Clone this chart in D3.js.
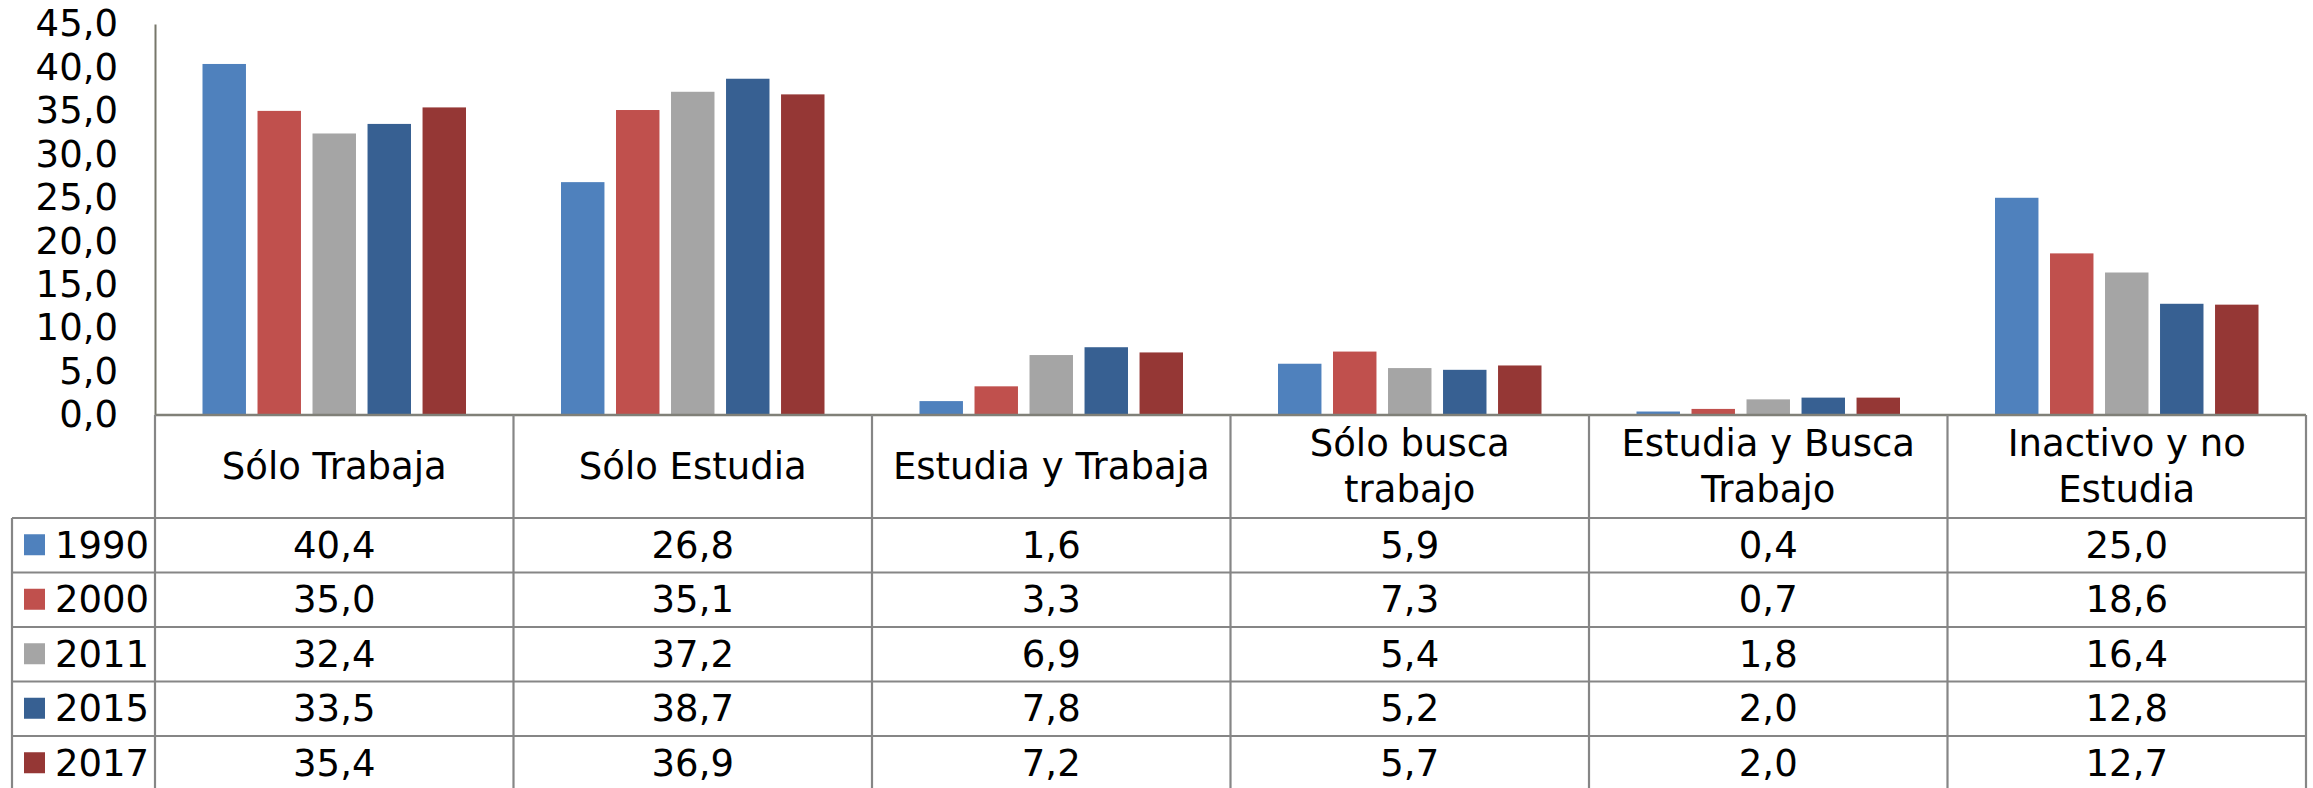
<!DOCTYPE html>
<html>
<head>
<meta charset="utf-8">
<script src="https://cdn.jsdelivr.net/npm/d3@7"></script>
<style>
  html, body { margin: 0; padding: 0; background: #fff; }
  svg { display: block; }
  text { font-family: "DejaVu Sans", Verdana, sans-serif; fill: #000; }
</style>
</head>
<body>
<svg id="chart" width="2313" height="788"></svg>
<script>
// ---- data ----
const categories = ["Sólo Trabaja", "Sólo Estudia", "Estudia y Trabaja", "Sólo busca trabajo", "Estudia y Busca Trabajo", "Inactivo y no Estudia"];
const categoryLines = [["Sólo Trabaja"], ["Sólo Estudia"], ["Estudia y Trabaja"], ["Sólo busca", "trabajo"], ["Estudia y Busca", "Trabajo"], ["Inactivo y no", "Estudia"]];
const seriesNames = ["1990", "2000", "2011", "2015", "2017"];
const values1990 = [40.4, 26.8, 1.6, 5.9, 0.4, 25.0];
const values2000 = [35.0, 35.1, 3.3, 7.3, 0.7, 18.6];
const values2011 = [32.4, 37.2, 6.9, 5.4, 1.8, 16.4];
const values2015 = [33.5, 38.7, 7.8, 5.2, 2.0, 12.8];
const values2017 = [35.4, 36.9, 7.2, 5.7, 2.0, 12.7];
const yTicks = [0, 5, 10, 15, 20, 25, 30, 35, 40, 45];
const colors = ["#4F81BD", "#C0504D", "#A5A5A5", "#376092", "#953735"];

const series = [values1990, values2000, values2011, values2015, values2017];

// ---- layout ----
const plotLeft = 155, plotRight = 2306, plotTop = 24, baseY = 415;
const headerBottom = 518, rowH = 54.5, legendLeft = 12;
const fontSize = 37;

const svg = d3.select("#chart");
const locale = d3.formatLocale({decimal: ",", thousands: ".", grouping: [3], currency: ["", ""]});
const fmt = locale.format(".1f");

const x0 = d3.scaleBand().domain(categories).range([plotLeft, plotRight]).paddingInner(0).paddingOuter(0);
const gpad = 47.5;
const x1 = d3.scaleBand().domain(seriesNames).range([gpad, x0.bandwidth() - gpad]).paddingInner(0.21).paddingOuter(0);
const y = d3.scaleLinear().domain([0, 45]).range([baseY, plotTop]);
const color = d3.scaleOrdinal().domain(seriesNames).range(colors);

// bars
const groups = svg.append("g").selectAll("g").data(categories).join("g")
  .attr("transform", d => `translate(${x0(d)},0)`);
groups.selectAll("rect").data((c, ci) => seriesNames.map((s, si) => ({s, v: series[si][ci]})))
  .join("rect")
  .attr("x", d => x1(d.s))
  .attr("width", x1.bandwidth())
  .attr("y", d => y(d.v))
  .attr("height", d => y(0) - y(d.v))
  .attr("fill", d => color(d.s));

// y axis
const yAxis = d3.axisLeft(y).tickValues(yTicks).tickFormat(fmt).tickSize(0).tickPadding(37);
const ya = svg.append("g").attr("transform", `translate(${plotLeft},0)`).call(yAxis);
ya.select(".domain").attr("stroke", "#77776a").attr("stroke-width", 2);
ya.selectAll("text").style("font-family", '"DejaVu Sans", Verdana, sans-serif').attr("font-size", fontSize).attr("fill", "#000");

// table
const rowScale = d3.scaleBand().domain(seriesNames).range([headerBottom, headerBottom + rowH * seriesNames.length]);
const grid = svg.append("g").attr("stroke", "#868686").attr("stroke-width", 2.2).attr("fill", "none");
// baseline / header top
grid.append("line").attr("x1", plotLeft).attr("x2", plotRight).attr("y1", baseY).attr("y2", baseY).attr("stroke", "#808078").attr("stroke-width", 2.5);
// vertical dividers
const dividers = categories.map(c => x0(c)).concat([plotRight]);
grid.selectAll("line.v").data(dividers).join("line").attr("class", "v")
  .attr("x1", d => d).attr("x2", d => d).attr("y1", baseY).attr("y2", 788);
// legend column left border
grid.append("line").attr("x1", legendLeft).attr("x2", legendLeft).attr("y1", headerBottom).attr("y2", 788);
// horizontal row lines
const hLines = seriesNames.map(s => rowScale(s)).concat([rowScale.range()[1]]);
grid.selectAll("line.h").data(hLines).join("line").attr("class", "h")
  .attr("x1", legendLeft).attr("x2", plotRight).attr("y1", d => d).attr("y2", d => d);

// header labels
const headG = svg.append("g");
const lineH = 45.7;
categories.forEach((c, i) => {
  const lines = categoryLines[i];
  const cx = x0(c) + x0.bandwidth() / 2;
  const cy = (baseY + headerBottom) / 2;
  lines.forEach((ln, j) => {
    headG.append("text")
      .attr("x", cx)
      .attr("y", cy + (j - (lines.length - 1) / 2) * lineH)
      .attr("text-anchor", "middle")
      .attr("dominant-baseline", "central")
      .attr("font-size", fontSize)
      .text(ln);
  });
});

// legend column
const legG = svg.append("g");
seriesNames.forEach((s, si) => {
  const cy = rowScale(s) + rowScale.bandwidth() / 2;
  legG.append("rect").attr("x", 24).attr("y", cy - 11).attr("width", 21).attr("height", 21).attr("fill", color(s));
  legG.append("text").attr("x", 55).attr("y", cy).attr("dominant-baseline", "central")
    .attr("font-size", fontSize).text(s);
});

// data cells
const cellG = svg.append("g");
seriesNames.forEach((s, si) => {
  const cy = rowScale(s) + rowScale.bandwidth() / 2;
  categories.forEach((c, ci) => {
    cellG.append("text").attr("x", x0(c) + x0.bandwidth() / 2).attr("y", cy)
      .attr("text-anchor", "middle").attr("dominant-baseline", "central")
      .attr("font-size", fontSize).text(fmt(series[si][ci]));
  });
});
</script>
</body>
</html>
